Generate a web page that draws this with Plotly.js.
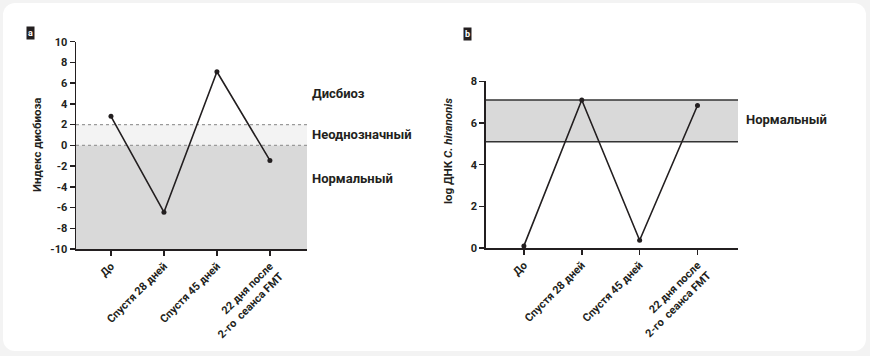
<!DOCTYPE html>
<html>
<head>
<meta charset="utf-8">
<script src="https://cdn.plot.ly/plotly-3.0.1.min.js"></script>
<style>
  html, body { margin:0; padding:0; background:#f3f3f3; }
  #panel { position:absolute; left:3px; top:3px; width:863px; height:348px; background:#fff; border-radius:12px; }
  #chart { position:absolute; left:0; top:0; width:870px; height:356px; }
</style>
</head>
<body>
<div id="panel"></div>
<div id="chart"></div>
<script>
// ---- data ----
const categories = ['До', 'Спустя 28 дней', 'Спустя 45 дней', '22 дня после<br>2-го  сеанса FMT'];
const dysbiosisIndex = [2.8, -6.45, 7.1, -1.45];
const hiranonisLog = [0.1, 7.1, 0.37, 6.84];
const yTicksA = [-10, -8, -6, -4, -2, 0, 2, 4, 6, 8, 10];
const yTicksB = [0, 2, 4, 6, 8];
const zoneLabelsA = ['Дисбиоз', 'Неоднозначный', 'Нормальный'];
const zoneLabelYA = [5.0, 1.0, -3.2];
const normalRangeB = [5.1, 7.1];

const W = 870, H = 356;
const px = v => v / W;
const py = v => (H - v) / H;
const xpos = categories.map((_, i) => i);
const hyphen = v => String(v).replace('\u2212', '-');

const FONT = 'Roboto, "Liberation Sans", Arial, sans-serif';
const ink = '#231f20';

const lineStyle = {color: ink, width: 1.6};
const markerStyle = {color: ink, size: 5};

const traces = [
  {x: xpos, y: dysbiosisIndex, xaxis: 'x', yaxis: 'y', mode: 'lines+markers',
   line: lineStyle, marker: markerStyle, cliponaxis: false, hoverinfo: 'skip'},
  {x: xpos, y: hiranonisLog, xaxis: 'x2', yaxis: 'y2', mode: 'lines+markers',
   line: lineStyle, marker: markerStyle, cliponaxis: false, hoverinfo: 'skip'}
];

const tickFont = {family: FONT, size: 11, color: ink, weight: 700};
const xCommon = {
  range: [-0.66, 3.7], tickvals: xpos, ticktext: categories, tickangle: -45,
  showgrid: false, zeroline: false, showline: true, linecolor: ink, linewidth: 1.5,
  ticks: 'outside', ticklen: 5, tickwidth: 1.5, tickcolor: ink, tickfont: tickFont, fixedrange: true
};
const yCommon = {
  showgrid: false, zeroline: false, showline: true, linecolor: ink, linewidth: 1.5,
  ticks: 'outside', ticklen: 5, tickwidth: 1.5, tickcolor: ink, tickfont: tickFont, fixedrange: true
};

const shapes = [
  {type: 'rect', xref: 'x domain', yref: 'y', x0: 0, x1: 1, y0: -10, y1: 0, fillcolor: '#d9d9d9', line: {width: 0}, layer: 'below'},
  {type: 'rect', xref: 'x domain', yref: 'y', x0: 0, x1: 1, y0: 0, y1: 2, fillcolor: '#f3f3f3', line: {width: 0}, layer: 'below'},
  {type: 'line', xref: 'x domain', yref: 'y', x0: 0, x1: 1, y0: 2, y1: 2, line: {color: '#9a9a9a', width: 1.2, dash: 'dot'}, layer: 'below'},
  {type: 'line', xref: 'x domain', yref: 'y', x0: 0, x1: 1, y0: 0, y1: 0, line: {color: '#9a9a9a', width: 1.2, dash: 'dot'}, layer: 'below'},
  {type: 'rect', xref: 'x2 domain', yref: 'y2', x0: 0, x1: 1, y0: normalRangeB[0], y1: normalRangeB[1], fillcolor: '#d9d9d9', line: {width: 0}, layer: 'below'},
  {type: 'line', xref: 'x2 domain', yref: 'y2', x0: 0, x1: 1, y0: normalRangeB[0], y1: normalRangeB[0], line: {color: '#333', width: 1.5}, layer: 'below'},
  {type: 'line', xref: 'x2 domain', yref: 'y2', x0: 0, x1: 1, y0: normalRangeB[1], y1: normalRangeB[1], line: {color: '#333', width: 1.5}, layer: 'below'}
];

const labFont = {family: FONT, size: 13, color: ink, weight: 700};
const titleFont = {family: FONT, size: 11.5, color: ink, weight: 700};
const annotations = [];
zoneLabelsA.forEach((t, i) => annotations.push({
  text: t, xref: 'paper', yref: 'y', x: px(310), y: zoneLabelYA[i], xanchor: 'left', yanchor: 'middle',
  showarrow: false, font: labFont
}));
annotations.push({text: 'Нормальный', xref: 'paper', yref: 'y2', x: px(744), y: 6.15, xanchor: 'left', yanchor: 'middle', showarrow: false, font: labFont});
annotations.push({text: 'Индекс дисбиоза', xref: 'paper', yref: 'paper', x: px(37), y: py(145), textangle: -90,
  xanchor: 'center', yanchor: 'middle', showarrow: false, font: titleFont});
annotations.push({text: 'log ДНК <i>C. hiranonis</i>', xref: 'paper', yref: 'paper', x: px(448), y: py(151), textangle: -90,
  xanchor: 'center', yanchor: 'middle', showarrow: false, font: titleFont});
annotations.push({text: 'a', xref: 'paper', yref: 'paper', x: px(30), y: py(33.5), xanchor: 'center', yanchor: 'middle',
  showarrow: false, bgcolor: '#231f20', borderpad: 1, font: {family: FONT, size: 9, color: '#fff', weight: 700}});
annotations.push({text: 'b', xref: 'paper', yref: 'paper', x: px(467), y: py(34.3), xanchor: 'center', yanchor: 'middle',
  showarrow: false, bgcolor: '#231f20', borderpad: 1, font: {family: FONT, size: 9, color: '#fff', weight: 700}});

const layout = {
  width: W, height: H, margin: {l: 0, r: 0, t: 0, b: 0},
  paper_bgcolor: 'rgba(0,0,0,0)', plot_bgcolor: 'rgba(0,0,0,0)',
  showlegend: false, font: {family: FONT, color: ink},
  xaxis: Object.assign({}, xCommon, {domain: [px(76), px(307)], anchor: 'y'}),
  yaxis: Object.assign({}, yCommon, {domain: [py(249), py(41.7)], range: [-10, 10], anchor: 'x',
    tickvals: yTicksA, ticktext: yTicksA.map(hyphen)}),
  xaxis2: Object.assign({}, xCommon, {domain: [px(485.7), px(738)], anchor: 'y2'}),
  yaxis2: Object.assign({}, yCommon, {domain: [py(248), py(81.3)], range: [0, 8], anchor: 'x2',
    tickvals: yTicksB, ticktext: yTicksB.map(hyphen)}),
  shapes: shapes,
  annotations: annotations
};

Plotly.newPlot('chart', traces, layout, {displayModeBar: false, staticPlot: true});
</script>
</body>
</html>
